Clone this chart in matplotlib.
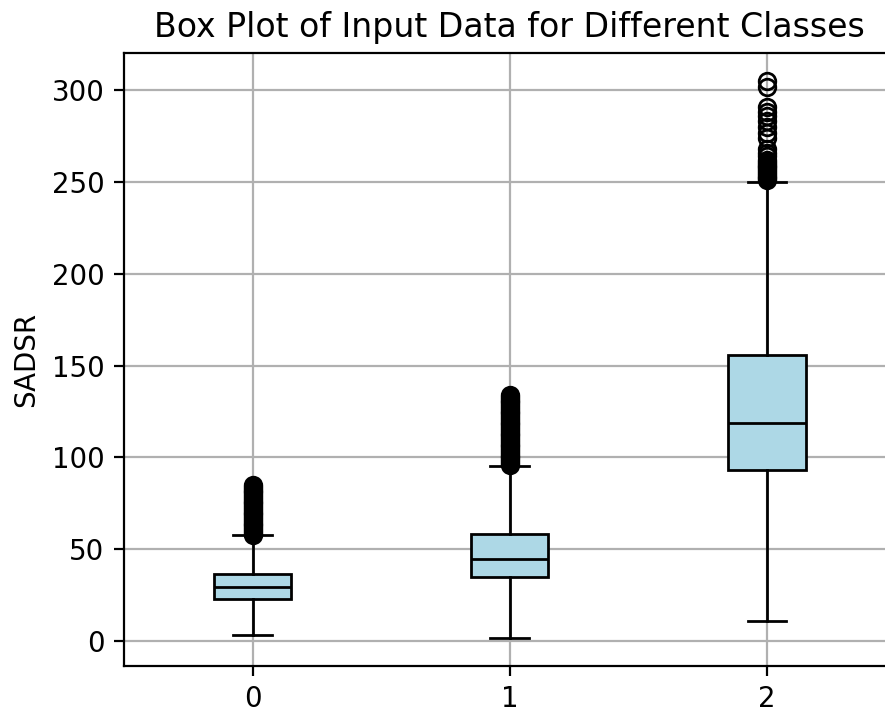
import matplotlib
matplotlib.use('Agg')
import matplotlib.pyplot as plt

# per-class box statistics of SADSR
classes = ['0', '1', '2']
whisker_low = [3.5, 1.6, 10.9]
q1 = [22.7, 34.8, 93.0]
median = [29.3, 44.6, 119.0]
q3 = [36.6, 58.2, 156.0]
whisker_high = [57.6, 95.1, 250.0]

# outliers above the upper whisker
fliers_0 = [58, 59, 60, 61, 62, 63, 64, 65, 66, 67, 68, 69, 70, 71, 72, 73,
            74, 75, 76, 77, 78, 79, 80, 81, 82, 83, 84, 85]
fliers_1 = [96, 97, 98, 99, 100, 101, 102, 103, 104, 105, 106, 107, 108, 109,
            110, 111, 112, 113, 114, 115, 116, 117, 118, 119, 120, 121, 122,
            123, 124, 125, 126, 127, 128, 129, 130, 131, 132, 133, 134]
fliers_2 = [251, 252, 253, 254, 255, 256, 257, 258, 259, 260, 261, 262, 264,
            266, 268, 274, 277, 280, 283, 286, 288, 291, 302, 305]

DPI = 199
fig = plt.figure(figsize=(885 / DPI, 710 / DPI), dpi=DPI)
ax = fig.add_axes([0.140, 0.062, 0.872, 0.863])

fliers = [fliers_0, fliers_1, fliers_2]
stats = []
for i in range(len(classes)):
    stats.append({
        'label': classes[i],
        'whislo': whisker_low[i],
        'q1': q1[i],
        'med': median[i],
        'q3': q3[i],
        'whishi': whisker_high[i],
        'fliers': fliers[i],
    })

ax.bxp(stats, positions=range(len(classes)), widths=0.3, patch_artist=True,
       boxprops=dict(facecolor='lightblue', edgecolor='black'),
       medianprops=dict(color='black'),
       flierprops=dict(marker='o', markerfacecolor='none', markeredgecolor='black'))

ax.set_xlim(-0.5, 2.5)
ax.grid(True)
ax.set_axisbelow(True)
ax.set_title('Box Plot of Input Data for Different Classes')
ax.set_ylabel('SADSR')

fig.savefig('out.png', dpi=DPI)
